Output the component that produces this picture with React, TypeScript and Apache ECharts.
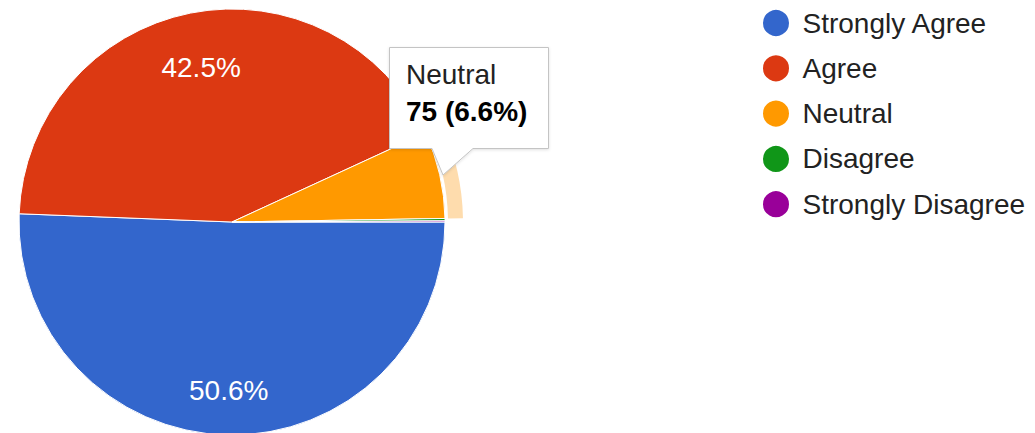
import React, { useEffect, useRef } from "react";
import * as echarts from "echarts";

const categories = ["Strongly Agree", "Agree", "Neutral", "Disagree", "Strongly Disagree"];
const values = [575, 483, 75, 2, 1];
const colors = ["#3366cc", "#dc3912", "#ff9900", "#109618", "#990099"];
const hovered = "Neutral";

const FONT = "'Liberation Sans', Arial, sans-serif";

export default function App() {
  const ref = useRef<HTMLDivElement>(null);

  useEffect(() => {
    if (!ref.current) return;
    const chart = echarts.init(ref.current, undefined, { renderer: "svg" });
    const total = values.reduce((a, b) => a + b, 0);
    const hi = categories.indexOf(hovered);
    const tipValue = `${values[hi]} (${((values[hi] / total) * 100).toFixed(1)}%)`;

    const center = [232, 222];
    const R = 213;

    const labelSeries = (which: string, inner: number) => ({
      type: "pie",
      name: "labels-" + which,
      center,
      radius: [inner, R],
      startAngle: 0,
      clockwise: true,
      silent: true,
      percentPrecision: 1,
      legendHoverLink: false,
      labelLine: { show: false },
      data: categories.map((c, i) => ({
        name: c,
        value: values[i],
        itemStyle: { color: "rgba(0,0,0,0)" },
        label: {
          show: c === which,
          position: "inside",
          formatter: "{d}%",
          color: "#ffffff",
          fontFamily: FONT,
          fontSize: 28,
        },
      })),
    });

    chart.setOption({
      animation: false,
      backgroundColor: "#ffffff",
      legend: {
        orient: "vertical",
        left: 756,
        top: 3,
        icon: "circle",
        itemWidth: 43,
        itemHeight: 28,
        itemGap: 15.3,
        selectedMode: false,
        data: categories,
        textStyle: {
          fontFamily: FONT,
          fontSize: 28,
          lineHeight: 28,
          color: "#222222",
        },
      },
      series: [
        {
          type: "pie",
          name: "main",
          center,
          radius: [0, R],
          startAngle: 0,
          clockwise: true,
          silent: true,
          percentPrecision: 1,
          label: { show: false },
          labelLine: { show: false },
          itemStyle: { borderColor: "#ffffff", borderWidth: 1 },
          data: categories.map((c, i) => ({
            name: c,
            value: values[i],
            itemStyle: { color: colors[i] },
          })),
        },
        {
          type: "pie",
          name: "hover",
          center,
          radius: [216, 231],
          startAngle: 0,
          clockwise: true,
          silent: true,
          legendHoverLink: false,
          label: { show: false },
          labelLine: { show: false },
          data: categories.map((c, i) => ({
            name: c,
            value: values[i],
            itemStyle: { color: c === hovered ? "#fedcad" : "rgba(0,0,0,0)" },
          })),
        },
        labelSeries("Strongly Agree", 118),
        labelSeries("Agree", 97),
      ],
      graphic: [
        {
          type: "polygon",
          shape: {
            points: [
              [389.5, 47.5],
              [548.5, 47.5],
              [548.5, 148.5],
              [473, 148.5],
              [443, 175],
              [432, 148.5],
              [389.5, 148.5],
            ],
          },
          style: {
            fill: "#ffffff",
            stroke: "#c4c4c4",
            lineWidth: 1,
            shadowBlur: 3,
            shadowColor: "rgba(0,0,0,0.12)",
            shadowOffsetY: 1,
          },
          z: 100,
        },
        {
          type: "text",
          left: 406,
          top: 60,
          style: {
            text: hovered,
            fill: "#222222",
            font: `28px ${FONT}`,
          },
          z: 101,
        },
        {
          type: "text",
          left: 406,
          top: 97,
          style: {
            text: tipValue,
            fill: "#000000",
            font: `bold 28px ${FONT}`,
          },
          z: 101,
        },
      ],
    });

    return () => chart.dispose();
  }, []);

  return (
    <div
      ref={ref}
      style={{ position: "fixed", left: 0, top: 0, width: 1035, height: 433, background: "#fff" }}
    />
  );
}
